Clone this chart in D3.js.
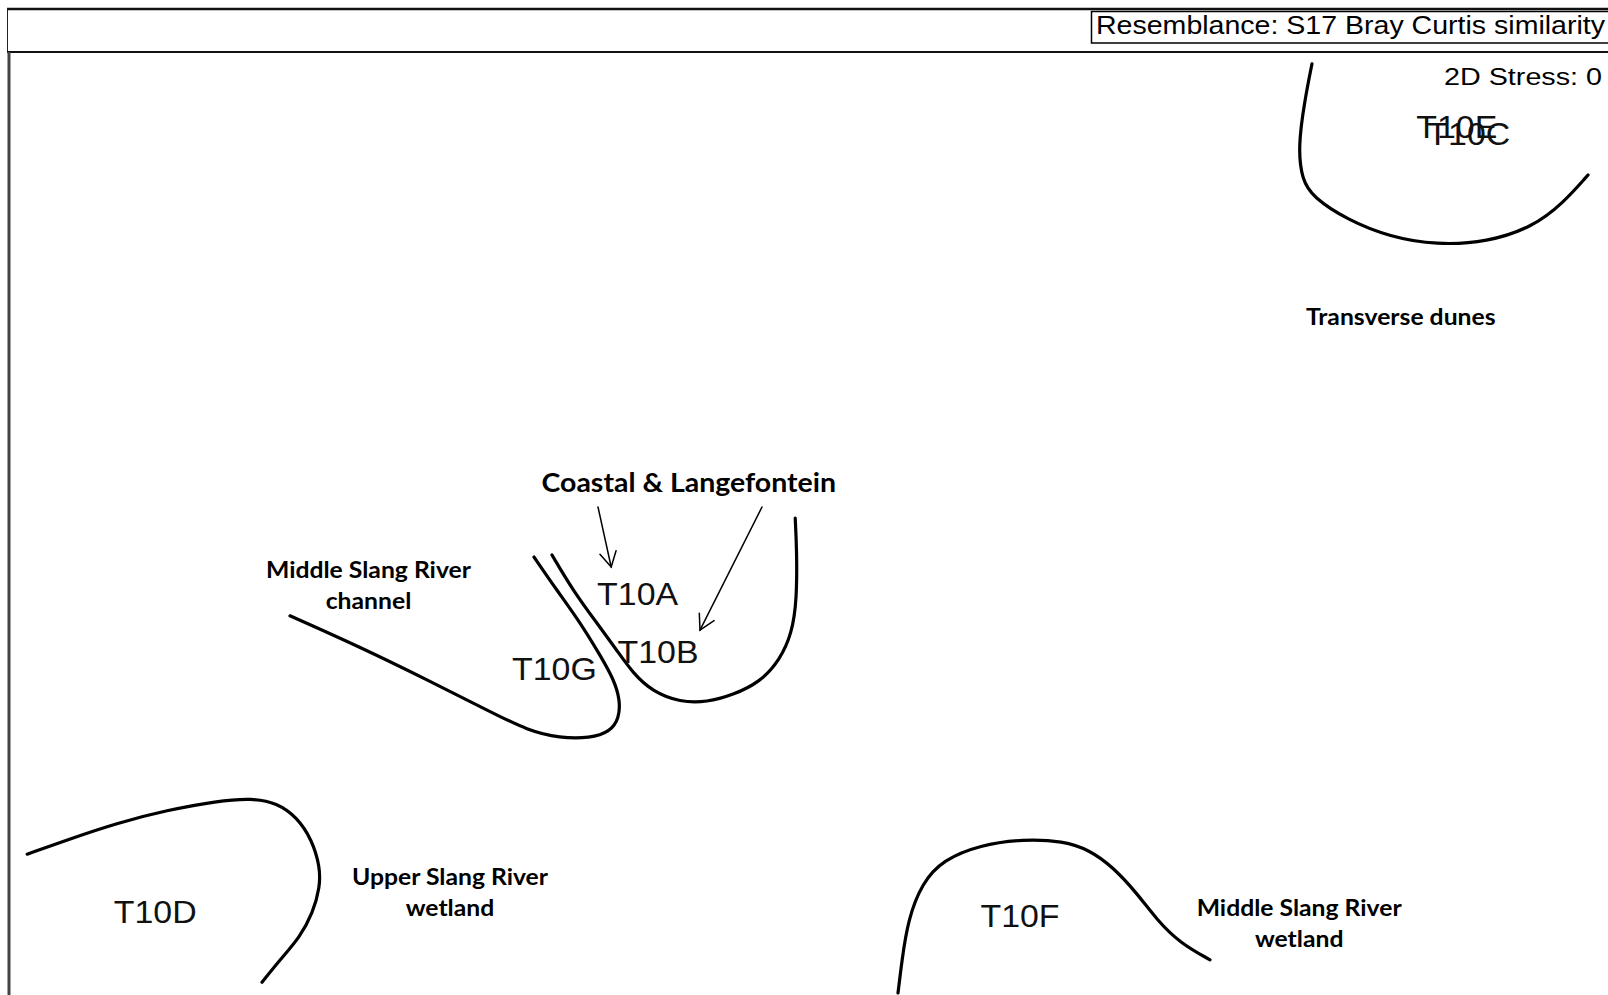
<!DOCTYPE html>
<html><head><meta charset="utf-8">
<script src="https://cdn.jsdelivr.net/npm/d3@7"></script>
<style>html,body{margin:0;padding:0;background:#fff;overflow:hidden}</style>
</head><body><svg id="c" width="1608" height="995"></svg>
<script>
// ---- data (MDS configuration, arbitrary units) ----
const sampleLabels = ["T10A", "T10B", "T10G", "T10D", "T10F", "T10E", "T10C"];
const sampleX = [78.7, 81.25, 68.3, 18.4, 126.5, 181.1, 182.6];
const sampleY = [50.2, 42.9, 40.8, 10.4, 10.0, 108.6, 107.7];

const groupLines = [
  ["Coastal & Langefontein"],
  ["Transverse dunes"],
  ["Middle Slang River", "channel"],
  ["Upper Slang River", "wetland"],
  ["Middle Slang River", "wetland"]
];
const groupX = [85.1, 174.1, 45.06, 55.25, 161.4];
const groupY = [62.9, 83.75, 52.1, 13.75, 9.9];
const groupBig = [true, false, false, false, false];

// hand-drawn cluster outlines
const outlineDunesX = [163, 162.1, 161.25, 161.75, 163.1, 167.4, 172.75, 178.6, 184.9, 190.6, 194.4, 197.5];
const outlineDunesY = [116.4, 111.9, 106, 101.9, 99.75, 96.9, 94.75, 93.75, 94.1, 96, 99, 102.5];
const outlineChannelX = [35.25, 44, 52.4, 60.6, 64.9, 69, 72.75, 75.25, 76.4, 76.5, 75.75, 74, 71.5, 68.6, 65.75];
const outlineChannelY = [47.4, 43.5, 39.4, 35.25, 33.1, 32.1, 32.1, 32.9, 34.6, 36.9, 39.4, 42.5, 46.6, 50.6, 54.75];
const outlineCoastalX = [68, 70.6, 73.6, 76.1, 78.1, 80.6, 84, 87.4, 90.6, 94, 96.5, 98, 98.6, 98.6, 98.4];
const outlineCoastalY = [55, 50.6, 46.5, 43.1, 40.25, 37.9, 36.6, 36.6, 37.5, 39.1, 41.9, 45.25, 49.4, 55.6, 59.6];
const outlineUpperX = [2.4, 7.4, 13.6, 19.9, 26.1, 30.6, 33.6, 36.1, 38, 39, 39, 38.1, 36.5, 34, 31.75];
const outlineUpperY = [17.6, 19.4, 21.5, 23.1, 24.25, 24.6, 24, 22.25, 19.4, 16, 13.5, 10.25, 7.25, 4.4, 1.6];
const outlineWetlandX = [111.25, 111.75, 112.5, 114.25, 116.9, 121.5, 126.9, 131.9, 135.25, 138.1, 141.1, 143.6, 146.5, 150.25];
const outlineWetlandY = [0.25, 4.4, 9.4, 14, 16.9, 18.75, 19.5, 19.25, 18.1, 16, 12.75, 9.4, 6.5, 4.4];

const outlines = [
  [outlineDunesX, outlineDunesY],
  [outlineChannelX, outlineChannelY],
  [outlineCoastalX, outlineCoastalY],
  [outlineUpperX, outlineUpperY],
  [outlineWetlandX, outlineWetlandY]
];

const arrowFromX = [73.75, 94.25];
const arrowFromY = [61, 61];
const arrowToX = [75.4, 86.5];
const arrowToY = [53.5, 45.6];

const titleText = "Resemblance: S17 Bray Curtis similarity";
const stressText = "2D Stress: 0";

// ---- drawing ----
const W = 1608, H = 995;
const svg = d3.select("#c");
const x = d3.scaleLinear().domain([0, 200]).range([8, 1608]);
const y = d3.scaleLinear().domain([0, 117.875]).range([995, 52]);

const ARIAL = "'Liberation Sans', Arial, sans-serif";
const CAL = "Lato, 'Open Sans', sans-serif";

// frame
svg.append("line").attr("x1", 7).attr("x2", W).attr("y1", 9).attr("y2", 9)
  .attr("stroke", "#111").attr("stroke-width", 2.5);
svg.append("line").attr("x1", 7.5).attr("x2", 7.5).attr("y1", 9).attr("y2", 52)
  .attr("stroke", "#222").attr("stroke-width", 1);
svg.append("line").attr("x1", 7).attr("x2", W).attr("y1", 52).attr("y2", 52)
  .attr("stroke", "#111").attr("stroke-width", 2);
svg.append("line").attr("x1", 9).attr("x2", 9).attr("y1", 52).attr("y2", H)
  .attr("stroke", "#444").attr("stroke-width", 3);

// title box
svg.append("rect").attr("x", 1091.5).attr("y", 11.5).attr("width", 540).attr("height", 31.5)
  .attr("fill", "#fff").attr("stroke", "#000").attr("stroke-width", 1.5);
svg.append("text").attr("x", 1096).attr("y", 34)
  .attr("font-family", ARIAL).attr("font-size", 25)
  .attr("textLength", 509).attr("lengthAdjust", "spacingAndGlyphs")
  .text(titleText);
svg.append("text").attr("x", 1444).attr("y", 85)
  .attr("font-family", ARIAL).attr("font-size", 24)
  .attr("textLength", 158).attr("lengthAdjust", "spacingAndGlyphs")
  .text(stressText);

// outlines
const line = d3.line().x(d => x(d[0])).y(d => y(d[1])).curve(d3.curveBasis);
svg.append("g").selectAll("path").data(outlines).join("path")
  .attr("d", o => line(o[0].map((v, i) => [v, o[1][i]])))
  .attr("fill", "none").attr("stroke", "#000").attr("stroke-width", 3.2)
  .attr("stroke-linecap", "round").attr("stroke-linejoin", "round");

// arrows
const ag = svg.append("g").attr("stroke", "#000").attr("stroke-width", 1.5).attr("fill", "none")
  .attr("stroke-linecap", "round");
arrowFromX.forEach((_, i) => {
  const x0 = x(arrowFromX[i]), y0 = y(arrowFromY[i]), x1 = x(arrowToX[i]), y1 = y(arrowToY[i]);
  const ang = Math.atan2(y0 - y1, x0 - x1), L = 17, a = Math.PI / 6.2;
  ag.append("line").attr("x1", x0).attr("y1", y0).attr("x2", x1).attr("y2", y1);
  ag.append("path").attr("d",
    `M${x1 + L * Math.cos(ang + a)},${y1 + L * Math.sin(ang + a)}L${x1},${y1}L${x1 + L * Math.cos(ang - a)},${y1 + L * Math.sin(ang - a)}`);
});

// sample labels (Arial-like, slightly wide)
const probe = svg.append("text").attr("font-family", ARIAL).attr("font-size", 32).text("T10A");
const arialFactor = 81 / probe.node().getComputedTextLength();
probe.remove();
svg.append("g").selectAll("text").data(sampleLabels).join("text")
  .attr("x", (d, i) => x(sampleX[i])).attr("y", (d, i) => y(sampleY[i]))
  .attr("dy", "0.36em").attr("text-anchor", "middle")
  .attr("font-family", ARIAL).attr("font-size", 32).attr("fill", "#111")
  .text(d => d)
  .each(function () {
    const w = this.getComputedTextLength();
    d3.select(this).attr("textLength", w * arialFactor).attr("lengthAdjust", "spacingAndGlyphs");
  });

// group labels (Calibri-like bold)
const probe2 = svg.append("text").attr("font-family", CAL).attr("font-weight", 700)
  .attr("font-size", 23).text("Middle Slang River");
const calFactor = 205 / probe2.node().getComputedTextLength();
probe2.remove();
const gg = svg.append("g");
groupLines.forEach((lines, i) => {
  const fs = groupBig[i] ? 26.5 : 23;
  lines.forEach((t, j) => {
    const el = gg.append("text")
      .attr("x", x(groupX[i])).attr("y", y(groupY[i]) + j * 31)
      .attr("text-anchor", "middle").attr("font-family", CAL).attr("font-weight", 700)
      .attr("font-size", fs).attr("fill", "#000").text(t);
    const w = el.node().getComputedTextLength();
    el.attr("textLength", w * calFactor).attr("lengthAdjust", "spacingAndGlyphs");
  });
});
</script></body></html>
